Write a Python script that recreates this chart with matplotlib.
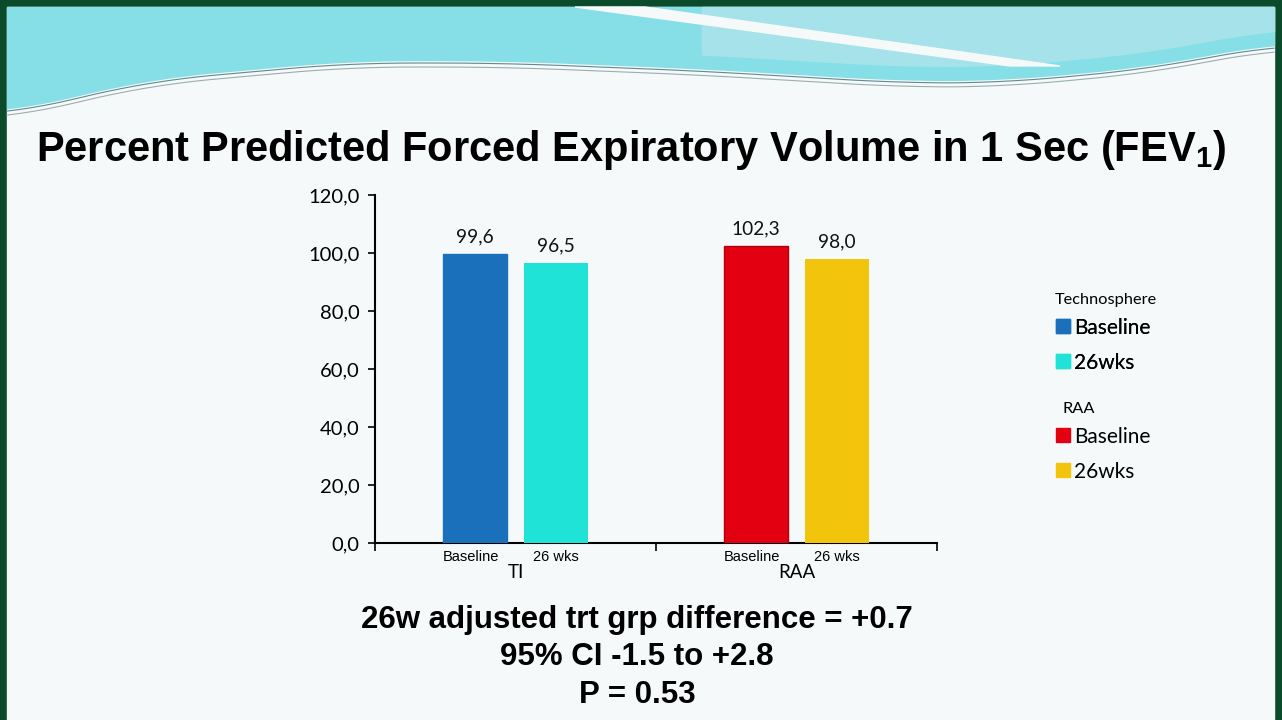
import numpy as np
import matplotlib.pyplot as plt
from matplotlib.patches import Patch, Polygon

groups = ['TI', 'RAA']
periods = ['Baseline', '26 wks']
baseline = [99.6, 102.3]
wk26 = [96.5, 98.0]
colors_base = ['#1a70bb', '#e30010']
colors_26 = ['#1ee3d6', '#f3c40c']
legend_titles = ['Technosphere', 'RAA']
legend_labels = ['Baseline', '26wks']
yticks = [0, 20, 40, 60, 80, 100, 120]

plt.rcParams['mathtext.fontset'] = 'custom'
plt.rcParams['mathtext.rm'] = 'Liberation Sans:bold'
plt.rcParams['mathtext.bf'] = 'Liberation Sans:bold'
plt.rcParams['mathtext.default'] = 'rm'

fig = plt.figure(figsize=(12.82, 7.2), dpi=100)
fig.patch.set_facecolor('#0b4a2a')

# slide background + header swoosh
bg = fig.add_axes([0, 0, 1, 1])
bg.set_xlim(0, 1282)
bg.set_ylim(720, 0)
bg.axis('off')
bg.add_patch(plt.Rectangle((7, 7), 1267, 720, color='#f6f9f9', zorder=0))
xs = np.linspace(7, 1274, 300)
kx = [7, 150, 350, 500, 700, 900, 1000, 1150, 1274]
ky = [112, 78, 60, 60, 68, 80, 80, 66, 42]
edge = np.interp(xs, kx, ky)
edge = np.convolve(np.pad(edge, 15, mode='edge'), np.ones(31) / 31, mode='valid')
bg.fill_between(xs, 7, edge, color='#86dfe6', zorder=1)
m = xs > 700
bg.fill_between(xs[m], 7, edge[m] - 14, color='#a6e2ea', zorder=1)
bg.add_patch(Polygon([[575, 7], [645, 7], [1060, 66], [1010, 66]], closed=True,
                     color='#f6f9f9', zorder=2))
bg.plot(xs, edge + 3, color='#5e8a90', lw=0.8, zorder=3)
bg.plot(xs, edge + 7, color='#9aaeb0', lw=0.8, zorder=3)

ax = fig.add_axes([0.2925, 0.2458, 0.4384, 0.4834])
ax.set_facecolor('none')

centers = np.arange(len(groups)) + 0.5
w = 0.228
off = 0.144
b1 = ax.bar(centers - off, baseline, w, color=colors_base, edgecolor=colors_base, zorder=3)
b2 = ax.bar(centers + off, wk26, w, color=colors_26, zorder=3)
b1[1].set_edgecolor('#b0000c')

for bars, vals in [(b1, baseline), (b2, wk26)]:
    for r, v in zip(bars, vals):
        ax.text(r.get_x() + r.get_width() / 2, v + 3, f'{v:.1f}'.replace('.', ','),
                ha='center', va='bottom', fontsize=13.8, family='Lato', color='#111111')

ax.set_xlim(0, len(groups))
ax.set_ylim(0, 120)
ax.set_yticks(yticks)
ax.set_yticklabels([f'{t:.1f}'.replace('.', ',') for t in yticks], family='Lato', fontsize=14.5)
ax.tick_params(axis='y', length=5, width=1.2, direction='out', pad=6)
ax.set_xticks(np.arange(len(groups) + 1))
ax.set_xticklabels([])
ax.tick_params(axis='x', length=6, width=1.2, direction='out')
for s in ['top', 'right']:
    ax.spines[s].set_visible(False)
for s in ['left', 'bottom']:
    ax.spines[s].set_linewidth(1.5)

for i, c in enumerate(centers):
    for dx, p in zip([-off - 0.015, off], periods):
        ax.text(c + dx, -2.5, p, ha='center', va='top', fontsize=10.5,
                family='Liberation Sans')
    ax.text(c, -7.3, groups[i], ha='center', va='top', fontsize=13.5, family='Lato')

# legend groups: heading text + entries
leg_kw = dict(loc='center left', frameon=False, prop={'family': 'Lato', 'size': 15},
              handlelength=0.65, handleheight=0.65, handletextpad=0.2,
              labelspacing=0.72)
leg1 = fig.legend([Patch(color=colors_base[0]), Patch(color=colors_26[0])], legend_labels,
                  bbox_to_anchor=(0.8094, 0.5208), **leg_kw)
fig.add_artist(leg1)
fig.legend([Patch(color=colors_base[1]), Patch(color=colors_26[1])], legend_labels,
           bbox_to_anchor=(0.8094, 0.3694), **leg_kw)
fig.text(1055 / 1282, 1 - 300 / 720, legend_titles[0], ha='left', va='center',
         fontsize=11.8, family='Lato')
fig.text(1062 / 1282, 1 - 409 / 720, legend_titles[1], ha='left', va='center',
         fontsize=11.8, family='Lato')

fig.text(0.492, 0.792, r'Percent Predicted Forced Expiratory Volume in 1 Sec (FEV$_1$)',
         ha='center', va='center', fontsize=30, fontweight='bold', family='Liberation Sans')

notes = ['26w adjusted trt grp difference = +0.7', '95% CI -1.5 to +2.8', 'P = 0.53']
for i, t in enumerate(notes):
    fig.text(0.497, 0.139 - i * 0.052, t, ha='center', va='center', fontsize=22.5,
             fontweight='bold', family='Liberation Sans')

fig.savefig('out.png', dpi=100, facecolor=fig.get_facecolor())
